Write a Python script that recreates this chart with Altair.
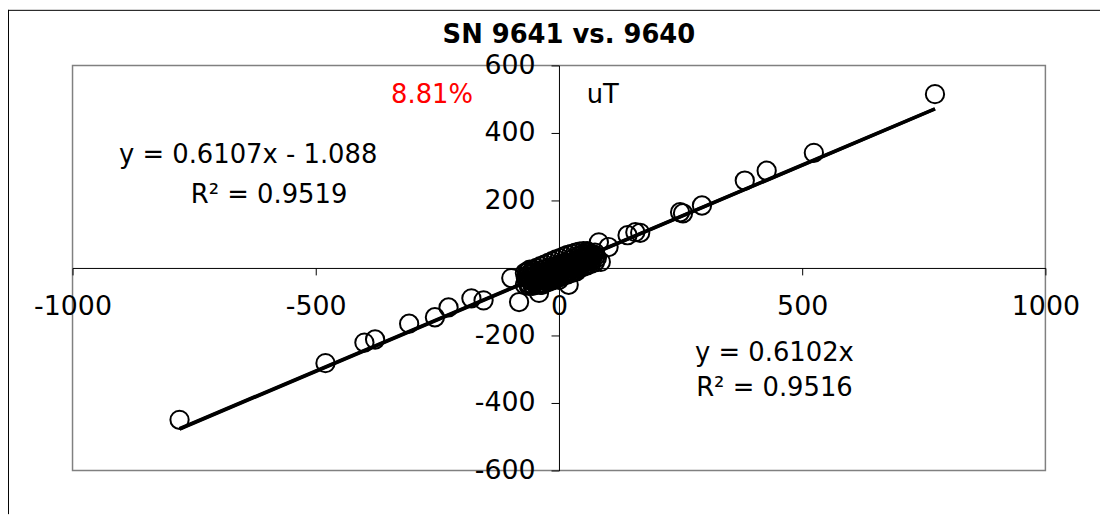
import altair as alt
import pandas as pd

# ---- data (uT) ----
sn9640_x = [-780, -480, -400, -378, -308, -255, -227, -180, -155, -98, -82, -41, 20,
            773, 524, 427, 382, 294, 255, 249, 167, 157, 141, 102, 86, 82,
            -68, -66, -64, -62, -60, -58, -56, -54, -52, -50, -48, -46, -44, -42, -40,
            -38, -36, -34, -32, -30, -28, -26, -24, -22, -20, -18, -16, -14, -12, -10,
            -8, -6, -4, -2, 0, 2, 4, 6, 8, 10, 12, 14, 16, 18, 20, 22, 24, 26, 28, 30,
            32, 34, 36, 38, 40, 42, 44, 46, 48, 50, 52, 54, 56, 58, 60, 62, 64, 66, 70,
            74, 78,
            -65, -57, -49, -41, -33, -25, -17, -9, -1, 7, 15, 23, 31, 39, 47, 55, 63, 71,
            -61, -53, -45, -37, -29, -21, -13, -5, 3, 11, 19, 27, 35, 43, 51, 59, 67, 75,
            -70, -35, 0, 35, 68,
            -70, -62, -54, -46, -38, -30, -22, -14, -6, 2, 10, 18, 26, 34, 42, 50, 58,
            -62, -54, -46, -38, -30, -22, -14, -6, 2, 10, 18, 26, 34, 42, 50, 58, 66, 74]
sn9641_y = [-450, -282, -221, -212, -165, -146, -117, -90, -96, -30, -101, -74, -50,
            515, 341, 288, 259, 185, 162, 165, 104, 106, 97, 62, 18, 76,
            -30, -12, -45, -20, -5, -38, -15, -50, -28, -8, -40, -18, -48, -30, -8,
            -35, -15, -45, -25, -5, -30, -12, -40, -20, 0, -28, -8, -35, -15, 5,
            -22, -2, -30, -10, 10, -18, 5, -25, -5, 15, -12, 10, -20, 0, 22, -8, 15, -15, 5, 28,
            0, 22, -10, 10, 35, 15, 38, 5, 25, 42, 18, 40, 10, 30, 45, 25, 42, 20, 38,
            45, 30,
            -25, -28, -22, -18, -15, -10, -4, 0, 2, 6, 10, 14, 18, 22, 28, 32, 34, 40,
            -48, -42, -38, -32, -38, -30, -22, -18, -8, -2, 8, 2, 12, 8, 30, 20, 30, 35,
            -50, -50, -35, 5, 25,
            -15, -10, -5, 0, 5, 10, 15, 20, 25, 29, 34, 39, 42, 45, 48, 50, 50,
            -53, -53, -50, -50, -46, -42, -37, -32, -27, -22, -17, -12, -7, -2, 3, 8, 12, 17]

trend_x = [-780, 773]
fit_slope, fit_intercept = 0.6107, -1.088
zero_slope = 0.6102

x_ticks = [-1000, -500, 0, 500, 1000]
y_ticks = [-600, -400, -200, 200, 400, 600]

title_text = "SN 9641 vs. 9640"
note_text = ["8.81%", "uT", "y = 0.6107x - 1.088", "R\u00b2 = 0.9519", "y = 0.6102x", "R\u00b2 = 0.9516"]
note_x = [-261, 90, -639, -596, 443, 443]
note_y = [512, 512, 335, 215, -253, -356]
note_color = ["#ff0000", "#000000", "#000000", "#000000", "#000000", "#000000"]

FONT = "DejaVu Sans"

points = pd.DataFrame({"x": sn9640_x, "y": sn9641_y})
trend = pd.DataFrame({
    "x": trend_x * 2,
    "y": [fit_slope * v + fit_intercept for v in trend_x] + [zero_slope * v for v in trend_x],
    "fit": ["linear", "linear", "zero", "zero"],
})
notes = pd.DataFrame({"x": note_x, "y": note_y, "t": note_text, "c": note_color})
title_df = pd.DataFrame({"t": [title_text]})

xs = alt.Scale(domain=[-1000, 1000], nice=False, zero=False)
ys = alt.Scale(domain=[-600, 600], nice=False, zero=False)

x_axis = alt.Axis(values=x_ticks, offset=-204, title=None, grid=False, tickSize=7,
                  labelPadding=19, labelFlush=False, labelOverlap=False,
                  labelExpr="datum.value + ''",
                  labelFont=FONT, labelFontSize=27, labelColor="#000000",
                  domainColor="#000000", tickColor="#000000", domainWidth=1)
y_axis = alt.Axis(values=y_ticks, offset=-490, title=None, grid=False, tickSize=8,
                  labelPadding=16, labelFlush=False, labelOverlap=False,
                  labelExpr="datum.value + ''",
                  labelFont=FONT, labelFontSize=27, labelColor="#000000",
                  domainColor="#000000", tickColor="#000000", domainWidth=1)

base_pts = alt.Chart(points).mark_point(
    shape="circle", filled=False, size=340, stroke="#000000", strokeWidth=2, opacity=1
).encode(
    x=alt.X("x:Q", scale=xs, axis=x_axis),
    y=alt.Y("y:Q", scale=ys, axis=y_axis),
)

lines = alt.Chart(trend).mark_line(color="#000000", strokeWidth=3.5).encode(
    x=alt.X("x:Q", scale=xs),
    y=alt.Y("y:Q", scale=ys),
    detail="fit:N",
)

labels = alt.Chart(notes).mark_text(font=FONT, fontSize=26, align="center", baseline="middle").encode(
    x=alt.X("x:Q", scale=xs),
    y=alt.Y("y:Q", scale=ys),
    text="t:N",
    color=alt.Color("c:N", scale=None),
)

title_mark = alt.Chart(title_df).mark_text(
    font=FONT, fontSize=26, fontWeight="bold", align="center", baseline="alphabetic", color="#000000"
).encode(x=alt.value(500), y=alt.value(-23), text="t:N")

frame_df = pd.DataFrame({"k": [0]})
frame_left = alt.Chart(frame_df).mark_rule(color="#000000", strokeWidth=1).encode(
    x=alt.value(-64.5), y=alt.value(-56), y2=alt.value(452))
frame_top = alt.Chart(frame_df).mark_rule(color="#000000", strokeWidth=1).encode(
    x=alt.value(-65), x2=alt.value(1035), y=alt.value(-55.5))

chart = alt.layer(frame_left, frame_top, lines, base_pts, labels, title_mark).properties(
    width=980, height=408,
    background="#ffffff",
    autosize=alt.AutoSizeParams(type="none"),
    padding={"left": 65, "top": 56, "right": 55, "bottom": 44},
).configure_view(
    stroke="#808080", strokeWidth=1.5
)

chart.save("out.html", embed_options={"renderer": "svg", "actions": False})
